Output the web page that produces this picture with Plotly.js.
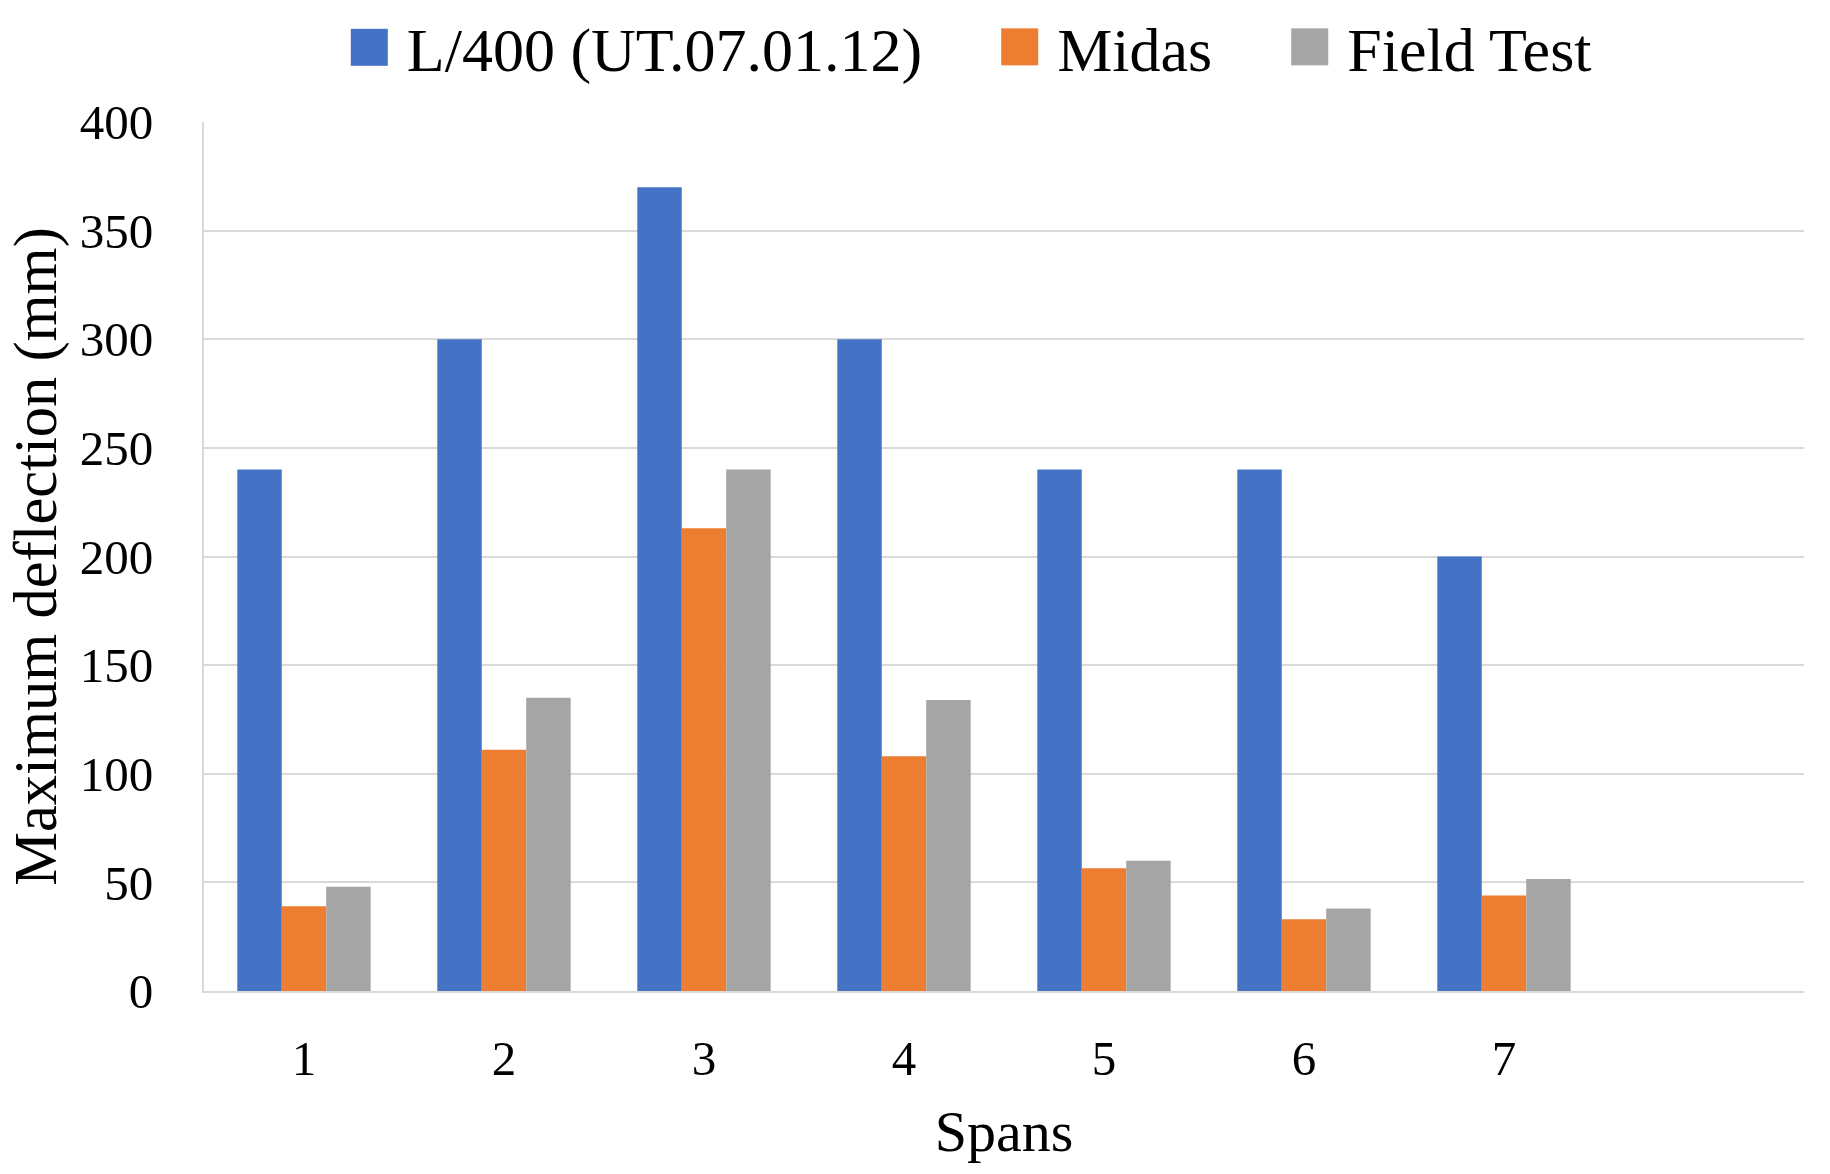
<!DOCTYPE html>
<html>
<head>
<meta charset="utf-8">
<script src="https://cdn.plot.ly/plotly-3.0.1.min.js"></script>
<style>html,body{margin:0;padding:0;background:#fff;}#chart{width:1830px;height:1174px;}</style>
</head>
<body>
<div id="chart"></div>
<script>
var spans = [1, 2, 3, 4, 5, 6, 7, 8];
var spanLabels = ["1", "2", "3", "4", "5", "6", "7", ""];
var limitL400 = [240, 300, 370, 300, 240, 240, 200, null];
var midas = [39, 111, 213, 108, 56.5, 33, 44, null];
var fieldTest = [48, 135, 240, 134, 60, 38, 51.5, null];
var seriesNames = ["L/400 (UT.07.01.12)", "Midas", "Field Test"];
var seriesColors = ["#4472C4", "#ED7D31", "#A5A5A5"];
var yTicks = [0, 50, 100, 150, 200, 250, 300, 350, 400];

var font = "'Liberation Serif', 'Times New Roman', serif";
var series = [limitL400, midas, fieldTest];
var traces = series.map(function (vals, i) {
  return {
    type: "bar",
    name: seriesNames[i],
    x: spans,
    y: vals,
    marker: {color: seriesColors[i], line: {width: 0}},
    hoverinfo: "y"
  };
});

var layout = {
  width: 1830,
  height: 1174,
  paper_bgcolor: "#ffffff",
  plot_bgcolor: "#ffffff",
  margin: {l: 204, r: 26, t: 122, b: 183, autoexpand: false},
  barmode: "group",
  bargap: 0.333,
  bargroupgap: 0,
  font: {family: font, color: "#000000"},
  showlegend: true,
  legend: {
    orientation: "h",
    x: 0.458, xanchor: "center",
    y: 1.086, yanchor: "middle",
    font: {family: font, size: 62, color: "#000000"},
    itemwidth: 120,
    tracegroupgap: 0
  },
  xaxis: {
    type: "linear",
    range: [0.5, 8.5],
    tickmode: "array",
    tickvals: spans,
    ticktext: spanLabels,
    ticks: "",
    showgrid: false,
    zeroline: false,
    showline: true,
    linecolor: "#d9d9d9",
    linewidth: 2,
    tickfont: {family: font, size: 49, color: "#000000"},
    ticklabelstandoff: 23,
    title: {text: "Spans", font: {family: font, size: 58, color: "#000000"}, standoff: 26}
  },
  yaxis: {
    range: [0, 400],
    tickmode: "array",
    tickvals: yTicks,
    ticks: "",
    showgrid: true,
    gridcolor: "#d9d9d9",
    gridwidth: 2,
    zeroline: false,
    showline: true,
    linecolor: "#d9d9d9",
    linewidth: 2,
    tickfont: {family: font, size: 49, color: "#000000"},
    ticklabelstandoff: 39,
    title: {text: "Maximum deflection (mm)", font: {family: font, size: 60.5, color: "#000000"}, standoff: 4}
  }
};

Plotly.newPlot("chart", traces, layout, {displayModeBar: false, staticPlot: true}).then(function (gd) {
  var ns = "http://www.w3.org/2000/svg";
  var items = gd.querySelectorAll(".legend .traces");
  items.forEach(function (item, i) {
    var lp = item.querySelector(".legendpoints");
    if (lp) lp.style.display = "none";
    var txt = item.querySelector("text.legendtext");
    if (!txt) return;
    var bb = txt.getBBox();
    var size = 37;
    var rect = document.createElementNS(ns, "rect");
    rect.setAttribute("x", bb.x - 19 - size);
    rect.setAttribute("y", bb.y + bb.height * 0.45 - size / 2);
    rect.setAttribute("width", size);
    rect.setAttribute("height", size);
    rect.setAttribute("fill", seriesColors[i]);
    item.appendChild(rect);
  });
});
</script>
</body>
</html>
